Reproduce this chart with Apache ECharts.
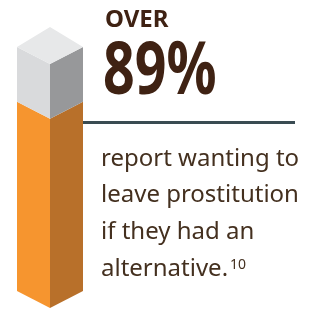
<!DOCTYPE html>
<html>
<head>
<meta charset="utf-8">
<script src="https://cdn.jsdelivr.net/npm/echarts@6/dist/echarts.min.js"></script>
<style>
  html, body { margin: 0; padding: 0; background: #fff; }
  #chart { width: 314px; height: 309px; }
</style>
</head>
<body>
<div id="chart"></div>
<script>
// data
const categories = ['Respondents'];
const segmentNames = ['Want to leave', 'Other'];
const segmentValues = [89, 11];
const headline = ['OVER', '89%'];
const bodyLines = ['report wanting to', 'leave prostitution', 'if they had an', 'alternative.'];
const footnote = '10';

// colours for the faces of each segment
const faces = [
    { left: '#f6952f', right: '#b8702a' },
    { left: '#d9dadc', right: '#97989a', top: '#e7e8e9' }
];
const depth = 17; // slant of the box edges, px
const axisMin = 51;

// stacked segments: [category, from, to]
let acc = 0;
const stacked = segmentValues.map((v, i) => {
    const row = [0, acc, acc + v, segmentNames[i]];
    acc += v;
    return row;
});

const renderBox = (params, api) => {
    const i = params.dataIndex;
    const lo = Math.max(api.value(1), axisMin);
    const hi = api.value(2);
    const b = api.coord([api.value(0), lo]);
    const t = api.coord([api.value(0), hi]);
    const half = api.size([1, 0])[0] / 2;
    const cx = b[0];
    const f = faces[i];
    const children = [
        { type: 'polygon', shape: { points: [[cx - half, t[1] - depth], [cx, t[1]], [cx, b[1]], [cx - half, b[1] - depth]] }, style: { fill: f.left } },
        { type: 'polygon', shape: { points: [[cx, t[1]], [cx + half, t[1] - depth], [cx + half, b[1] - depth], [cx, b[1]]] }, style: { fill: f.right } }
    ];
    if (f.top) {
        children.push({ type: 'polygon', shape: { points: [[cx - half, t[1] - depth], [cx, t[1] - 2 * depth - 3], [cx + half, t[1] - depth], [cx, t[1]]] }, style: { fill: f.top } });
    }
    return { type: 'group', children };
};

// width of the last body line, to place the footnote mark
const bodyFont = '24px "Noto Sans"';
const ctx = document.createElement('canvas').getContext('2d');
ctx.font = bodyFont;
const lastW = ctx.measureText(bodyLines[bodyLines.length - 1]).width;

const textLeft = 101;
const baselines = [168, 204, 241, 278];

const graphic = [
    { type: 'text', x: 105, y: 20, style: { text: headline[0], font: 'bold 24px "Noto Sans"', fill: '#3f2213', verticalAlign: 'middle' } },
    { type: 'text', x: 103, y: 73, scaleX: 0.75, style: { text: headline[1], font: 'bold 74px "Noto Sans"', fill: '#3f2213', verticalAlign: 'middle' } },
    { type: 'line', shape: { x1: 83, y1: 122.5, x2: 295, y2: 122.5 }, style: { stroke: '#3a4c52', lineWidth: 3 } }
];
bodyLines.forEach((line, i) => {
    graphic.push({ type: 'text', x: textLeft, y: baselines[i] - 8.6, style: { text: line, font: bodyFont, fill: '#44301f', verticalAlign: 'middle' } });
});
graphic.push({ type: 'text', x: textLeft + lastW + 2, y: 265, style: { text: footnote, font: '14px "Noto Sans"', fill: '#44301f', verticalAlign: 'middle' } });

const chart = echarts.init(document.getElementById('chart'));
chart.setOption({
    animation: false,
    grid: { left: 17, width: 66, top: 64, bottom: 1 },
    xAxis: { type: 'category', data: categories, show: false },
    yAxis: { type: 'value', min: axisMin, max: 100, show: false },
    series: [{
        type: 'custom',
        renderItem: renderBox,
        data: stacked,
        clip: false
    }],
    graphic
});
</script>
</body>
</html>
